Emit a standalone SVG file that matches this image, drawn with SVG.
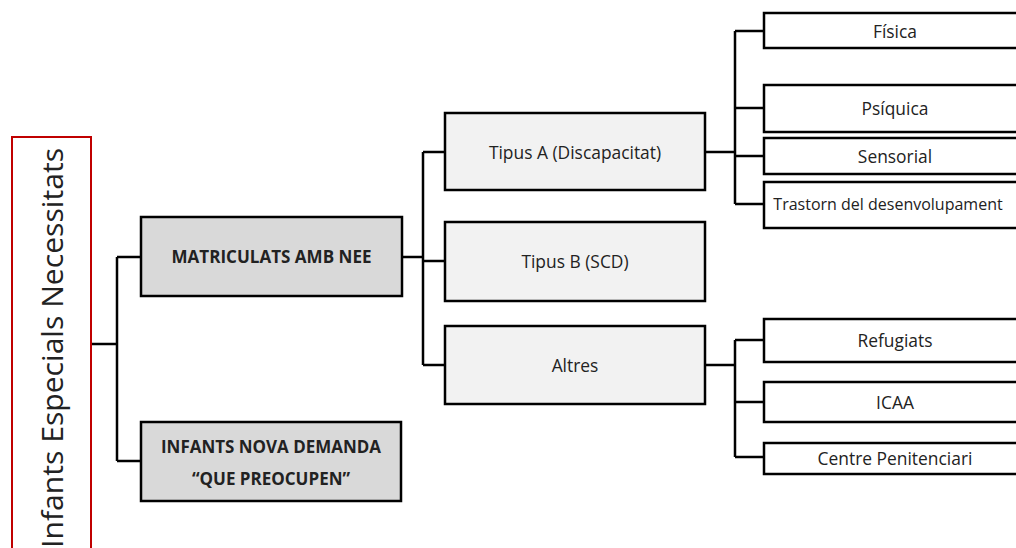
<svg xmlns="http://www.w3.org/2000/svg" width="1016" height="548" viewBox="0 0 1016 548">
<style>
.box{stroke:#000;stroke-width:2.5}
.l1{fill:#d9d9d9}
.l2{fill:#f2f2f2}
.l3{fill:#fff}
.t{font-family:"Open Sans","Liberation Sans",sans-serif;font-size:17.4px;fill:#222;text-anchor:middle;dominant-baseline:central}
.b{font-weight:bold;font-size:17px}
.conn{fill:none;stroke:#000;stroke-width:2.5}
</style>
<rect width="1016" height="548" fill="#fff"/>
<g id="connectors" class="conn">
<path d="M91 344H117M117 257V461M117 257H141M117 461H141"/>
<path d="M402 257H423M423 152V365M423 152H445M423 261H445M423 365H445"/>
<path d="M705 152H735M735 31V204M735 31H764M735 108H764M735 156H764M735 204H764"/>
<path d="M705 365H735M735 340V457M735 340H764M735 402H764M735 457H764"/>
</g>
<g id="root">
<rect x="12" y="137" width="79" height="430" fill="#fff" stroke="#c00000" stroke-width="2"/>
<text class="t" transform="translate(51 348) rotate(-90)" style="font-size:29px" textLength="400" lengthAdjust="spacingAndGlyphs">Infants Especials Necessitats</text>
</g>
<g id="matriculats">
<rect class="box l1" x="141" y="217" width="261" height="79"/>
<text class="t b" x="271.5" y="256" textLength="200" lengthAdjust="spacingAndGlyphs">MATRICULATS AMB NEE</text>
</g>
<g id="nova-demanda">
<rect class="box l1" x="141" y="422" width="260" height="79"/>
<text class="t b" x="271" y="446" textLength="220" lengthAdjust="spacingAndGlyphs">INFANTS NOVA DEMANDA</text>
<text class="t b" x="271" y="478">“QUE PREOCUPEN”</text>
</g>
<g id="tipus-a">
<rect class="box l2" x="445" y="113" width="260" height="77"/>
<text class="t" x="575" y="152">Tipus A (Discapacitat)</text>
</g>
<g id="tipus-b">
<rect class="box l2" x="445" y="222" width="260" height="79"/>
<text class="t" x="575" y="261">Tipus B (SCD)</text>
</g>
<g id="altres">
<rect class="box l2" x="445" y="326" width="260" height="78"/>
<text class="t" x="575" y="365">Altres</text>
</g>
<g id="fisica">
<rect class="box l3" x="764" y="13" width="262" height="35"/>
<text class="t" x="895" y="30.5">Física</text>
</g>
<g id="psiquica">
<rect class="box l3" x="764" y="85" width="262" height="47"/>
<text class="t" x="895" y="108">Psíquica</text>
</g>
<g id="sensorial">
<rect class="box l3" x="764" y="138" width="262" height="36"/>
<text class="t" x="895" y="156">Sensorial</text>
</g>
<g id="trastorn">
<rect class="box l3" x="764" y="182" width="262" height="46"/>
<text class="t" x="888" y="204" style="font-size:16px">Trastorn del desenvolupament</text>
</g>
<g id="refugiats">
<rect class="box l3" x="764" y="319" width="262" height="43"/>
<text class="t" x="895" y="340">Refugiats</text>
</g>
<g id="icaa">
<rect class="box l3" x="764" y="382" width="262" height="40"/>
<text class="t" x="895" y="402">ICAA</text>
</g>
<g id="centre">
<rect class="box l3" x="764" y="443" width="262" height="31"/>
<text class="t" x="895" y="458">Centre Penitenciari</text>
</g>
</svg>
